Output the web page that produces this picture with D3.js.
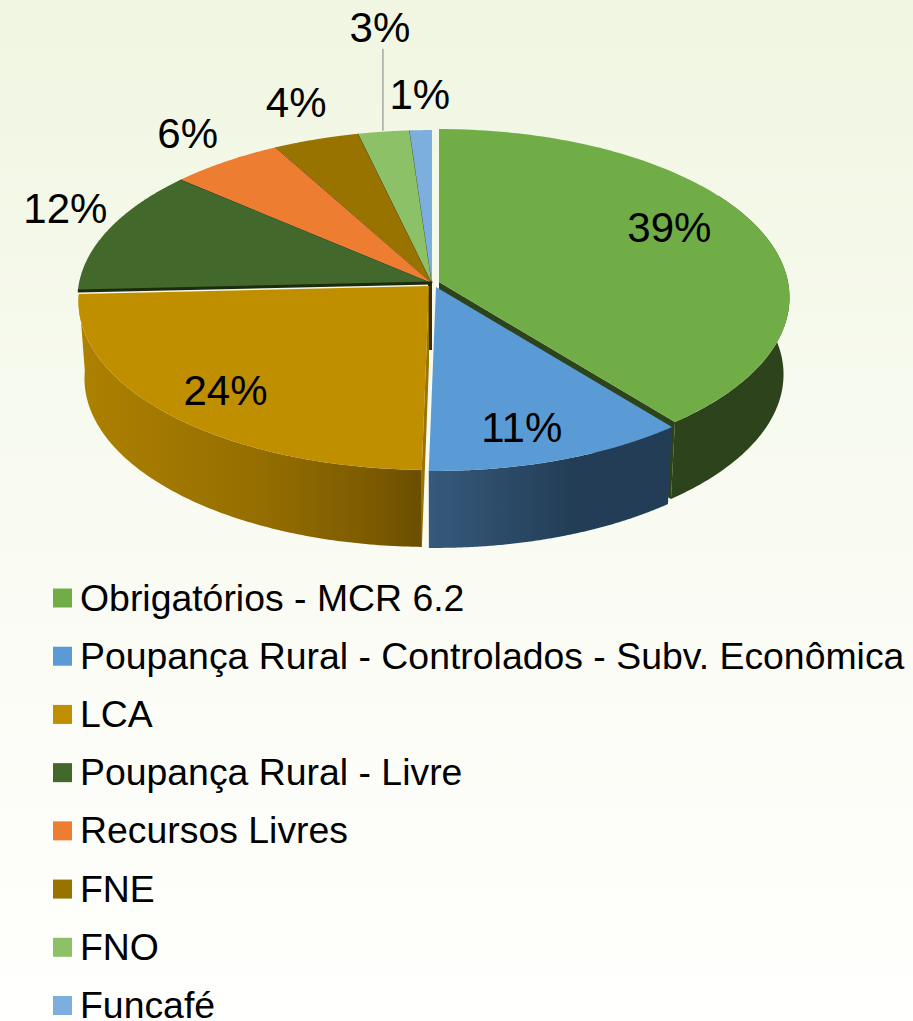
<!DOCTYPE html>
<html><head><meta charset="utf-8">
<script src="https://cdn.jsdelivr.net/npm/d3@7"></script>
<style>html,body{margin:0;padding:0;background:#fff}svg{display:block}text{font-family:"Liberation Sans",Arial,sans-serif;fill:#000}</style>
</head><body><div id="c"></div>
<script>
const categories = ["Obrigatórios - MCR 6.2","Poupança Rural - Controlados - Subv. Econômica","LCA","Poupança Rural - Livre","Recursos Livres","FNE","FNO","Funcafé"];
const shares = [39.2,11.1,23.95,12.15,5.65,4.3,2.55,1.1];
const labels = ["39%","11%","24%","12%","6%","4%","3%","1%"];
const colors = ["#70ad47","#5b9bd5","#bf8f00","#43682b","#ed7d31","#997300","#8cc168","#7cafdd"];

const W=913,H=1021,depth=77,persp=0.092,bottomScale=0.983,ry=167;
// each slice's exploded centre: [cx, cy, horizontal radius]
const centres=[[439,282,349],[436,287,349],[429,286,349],[432,283,353],[432,283,353],[432,283,353],[432,283,353],[432,283,353]];
const labelNudge=[[-89,-1],[-38,-33],[57,-24],[-43,-21],[-38,-28],[-20,-37],[-4,-104],[-1,-36]];

const svg=d3.select("#c").append("svg").attr("width",W).attr("height",H);
const defs=svg.append("defs");
const grad=(id,x1,x2,stops)=>{const g=defs.append("linearGradient").attr("id",id).attr("gradientUnits","userSpaceOnUse").attr("x1",x1).attr("x2",x2).attr("y1",0).attr("y2",0);
  stops.forEach(s=>g.append("stop").attr("offset",s[0]).attr("stop-color",s[1]));};
const bg=defs.append("linearGradient").attr("id","bg").attr("x1",0).attr("x2",0).attr("y1",0).attr("y2",1);
[[0,"#f0f6e1"],[.5,"#f9fbf2"],[1,"#fffffd"]].forEach(s=>bg.append("stop").attr("offset",s[0]).attr("stop-color",s[1]));
grad("wallBlue",428,668,[[0,"#365a7c"],[.6,"#233d56"],[1,"#233d56"]]);
grad("wallGold",78,421,[[0,"#ad8100"],[.55,"#946d00"],[.85,"#7c5b00"],[1,"#6b4e00"]]);
svg.append("rect").attr("width",W).attr("height",H).attr("fill","url(#bg)");

const arcs=d3.pie().sort(null).value(d=>d).startAngle(0).endAngle(2*Math.PI)(shares);
const line=d3.line().x(d=>d[0]).y(d=>d[1]);
function proj(i,t,f=1,bottom=false){
  const [cx,cy,r]=centres[i];
  const u=f*Math.sin(t),v=f*Math.cos(t),den=1+persp*v;
  const sx=d3.scaleLinear().domain([0,1]).range([0,r*(bottom?bottomScale:1)]);
  const sy=d3.scaleLinear().domain([0,1]).range([0,-ry]);
  return [cx+sx(u/den),cy+sy(v/den)+(bottom?depth:0)];
}
const samples=(a,b)=>d3.range(0,121).map(k=>a+(b-a)*k/120);
function topPath(i){
  const d=arcs[i];
  return line([proj(i,0,0),...samples(d.startAngle,d.endAngle).map(t=>proj(i,t))])+"Z";
}
function wallPath(i,a,b){
  const s=samples(a,b);
  return line([...s.map(t=>proj(i,t)),...s.slice().reverse().map(t=>proj(i,t,1,true))])+"Z";
}
function cutPath(i,t){
  return line([proj(i,0,0),proj(i,t),proj(i,t,1,true),[proj(i,0,0)[0],proj(i,0,0)[1]+depth]])+"Z";
}
const wallFill=["#2c431c","url(#wallBlue)","url(#wallGold)"];

// back group
const g=svg.append("g");
// small dark face under the back group's centre
const c3=proj(3,0,0);
g.append("path").attr("d",line([c3,[c3[0],c3[1]+67],[c3[0]-4,c3[1]+67],[c3[0]-4,c3[1]]])+"Z").attr("fill","#3b2b00");
[3,4,5,6,7].forEach(i=>{
  const d=arcs[i];
  g.append("path").attr("d",topPath(i)).attr("fill",colors[i]);
  g.append("path").attr("d",line([proj(i,0,0),proj(i,d.endAngle)])).attr("fill","none").attr("stroke","#000").attr("stroke-opacity",i===7?0:.55).attr("stroke-width",1);
});
// dark seam between Poupança Livre and LCA
g.append("path").attr("d",line([proj(3,0,0),proj(3,arcs[3].startAngle)])).attr("stroke","#1c2a10").attr("stroke-width",3).attr("fill","none");
// LCA
g.append("path").attr("d",wallPath(2,arcs[2].startAngle,arcs[2].endAngle)).attr("fill",wallFill[2]);
g.append("path").attr("d",cutPath(2,arcs[2].startAngle)).attr("fill","#9a7400");
g.append("path").attr("d",topPath(2)).attr("fill",colors[2]);
// Obrigatórios
g.append("path").attr("d",wallPath(0,1.0,arcs[0].endAngle)).attr("fill",wallFill[0]);
g.append("path").attr("d",cutPath(0,arcs[0].endAngle)).attr("fill",wallFill[0]);
g.append("path").attr("d",topPath(0)).attr("fill",colors[0]);
// Poupança controlados
g.append("path").attr("d",wallPath(1,arcs[1].startAngle,arcs[1].endAngle)).attr("fill",wallFill[1]);
g.append("path").attr("d",topPath(1)).attr("fill",colors[1]);

// labels
const labelG=svg.append("g");
arcs.forEach((d,i)=>{
  const mid=(d.startAngle+d.endAngle)/2,p=proj(i,mid);
  const x=p[0]+labelNudge[i][0],y=p[1]+labelNudge[i][1];
  if(labels[i]==="3%"){
    labelG.append("line").attr("x1",p[0]-1).attr("x2",p[0]-1).attr("y1",p[1]-1).attr("y2",y+21).attr("stroke","#a6a6a6").attr("stroke-width",1.5);
  }
  labelG.append("text").attr("x",x).attr("y",y).attr("text-anchor","middle").attr("dominant-baseline","central").attr("font-size",42).text(labels[i]);
});

// legend
const rowY=d3.scaleLinear().domain([0,categories.length-1]).range([598,1005.5]);
const leg=svg.append("g").selectAll("g").data(categories).join("g").attr("transform",(d,i)=>`translate(53,${rowY(i)})`);
leg.append("rect").attr("x",0).attr("y",-9.5).attr("width",19).attr("height",19).attr("fill",(d,i)=>colors[i]);
leg.append("text").attr("x",27).attr("y",12.5).attr("font-size",37.4).text(d=>d);
</script></body></html>
